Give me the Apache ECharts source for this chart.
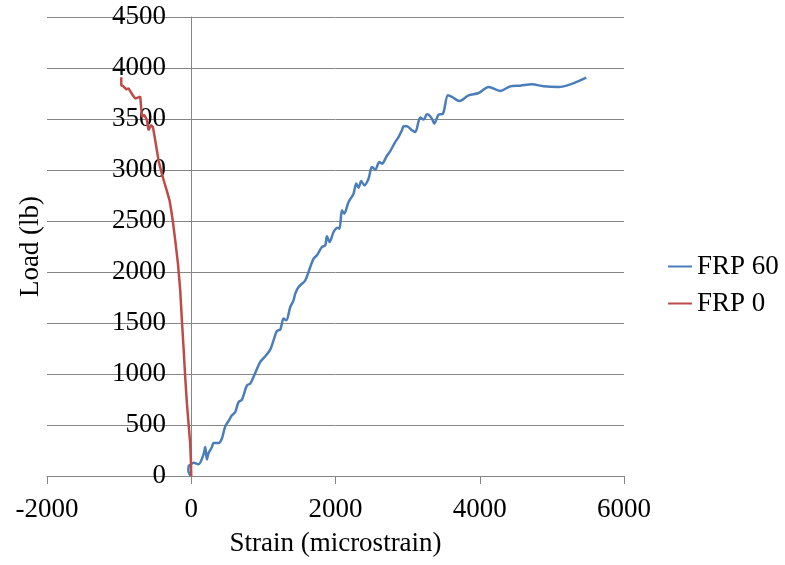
<!DOCTYPE html>
<html>
<head>
<meta charset="utf-8">
<script src="https://cdn.jsdelivr.net/npm/echarts/dist/echarts.min.js"></script>
<style>
  html, body { margin: 0; padding: 0; background: #fff; }
  #chart { width: 785px; height: 565px; }
</style>
</head>
<body>
<div id="chart"></div>
<script>
// FRP 60 — strain (microstrain) / load (lb)
const frp60Strain = [-10, -40, -35, -10, 32, 101, 171, 194, 217, 240, 287, 309, 379, 425, 471, 517, 564, 610, 656, 703,
  772, 818, 887, 957, 1026, 1095, 1141, 1188, 1234, 1280, 1317, 1373, 1418, 1442, 1488, 1581, 1650, 1696, 1743, 1812,
  1858, 1881, 1918, 1973, 2028, 2056, 2089, 2121, 2181, 2250, 2288, 2320, 2357, 2399, 2458, 2505, 2551, 2607, 2644, 2713,
  2759, 2829, 2874, 2921, 2944, 2990, 3060, 3106, 3175, 3221, 3268, 3290, 3337, 3369, 3429, 3490, 3559, 3615, 3720, 3845,
  3984, 4123, 4284, 4423, 4562, 4724, 4885, 5093, 5255, 5477]
const frp60Load = [0, 50, 100, 110, 131, 115, 213, 284, 161, 225, 284, 323, 323, 367, 487, 539, 595, 627, 725, 749,
  889, 906, 1010, 1118, 1174, 1239, 1330, 1422, 1435, 1543, 1526, 1657, 1722, 1788, 1853, 1919, 2049, 2131, 2164, 2245,
  2262, 2350, 2294, 2392, 2435, 2425, 2605, 2572, 2686, 2768, 2867, 2827, 2892, 2850, 2915, 3029, 3004, 3078, 3062, 3140,
  3186, 3275, 3323, 3389, 3428, 3428, 3389, 3373, 3514, 3494, 3546, 3543, 3504, 3455, 3543, 3553, 3732, 3716, 3676, 3732,
  3755, 3814, 3775, 3820, 3827, 3840, 3821, 3814, 3840, 3906]

// FRP 0
const frp0Strain = [0, -5, -15, -37, -60, -83, -107, -129, -153, -184, -222, -254, -277, -300, -340, -374, -406, -453,
  -499, -531, -559, -592, -614, -652, -684, -707, -731, -776, -808, -869, -901, -940, -970, -970]
const frp0Load = [0, 150, 320, 330, 710, 960, 1260, 1520, 1820, 2080, 2310, 2490, 2600, 2700, 2800, 2880, 2960, 3090,
  3290, 3420, 3440, 3390, 3490, 3540, 3520, 3720, 3730, 3700, 3730, 3800, 3790, 3820, 3830, 3910]

const seriesNames = ['FRP 60', 'FRP 0']

const font = "'Liberation Serif', 'Times New Roman', serif"
const gridGray = '#868686'

function pairs (xs, ys) {
  return xs.map((x, i) => [x, ys[i]])
}

const plain = v => String(v)

const chart = echarts.init(document.getElementById('chart'))
chart.setOption({
  animation: false,
  textStyle: { fontFamily: font },
  grid: { left: 47, right: 161, top: 17, bottom: 89, outerBoundsMode: 'none', containLabel: false },
  legend: {
    orient: 'vertical',
    left: 663,
    top: 248,
    itemGap: 10,
    itemWidth: 24,
    itemHeight: 2,
    icon: 'rect',
    textStyle: { fontFamily: font, fontSize: 27, color: '#000' },
    data: seriesNames
  },
  xAxis: {
    type: 'value',
    min: -2000,
    max: 6000,
    interval: 2000,
    name: 'Strain (microstrain)',
    nameLocation: 'middle',
    nameGap: 54,
    nameTextStyle: { fontFamily: font, fontSize: 27, color: '#000' },
    axisLine: { lineStyle: { color: gridGray, width: 1 } },
    axisTick: { show: true, length: 8, lineStyle: { color: gridGray } },
    axisLabel: { fontFamily: font, fontSize: 27, color: '#000', margin: 20, formatter: plain },
    splitLine: { show: false }
  },
  yAxis: {
    type: 'value',
    min: 0,
    max: 4500,
    interval: 500,
    name: 'Load (lb)',
    nameLocation: 'middle',
    nameGap: 3,
    nameTextStyle: { fontFamily: font, fontSize: 27, color: '#000' },
    axisLine: { show: true, onZero: true, lineStyle: { color: gridGray, width: 1 } },
    axisTick: { show: false },
    axisLabel: { fontFamily: font, fontSize: 27, color: '#000', margin: -119, formatter: plain },
    splitLine: { show: true, lineStyle: { color: gridGray, width: 1 } }
  },
  series: [
    {
      name: seriesNames[0],
      type: 'line',
      symbol: 'none',
      smooth: 0.3,
      itemStyle: { color: '#4a7ebb' },
      lineStyle: { width: 2.5 },
      data: pairs(frp60Strain, frp60Load)
    },
    {
      name: seriesNames[1],
      type: 'line',
      symbol: 'none',
      itemStyle: { color: '#be4b48' },
      lineStyle: { width: 2.5 },
      data: pairs(frp0Strain, frp0Load)
    }
  ]
})
</script>
</body>
</html>
